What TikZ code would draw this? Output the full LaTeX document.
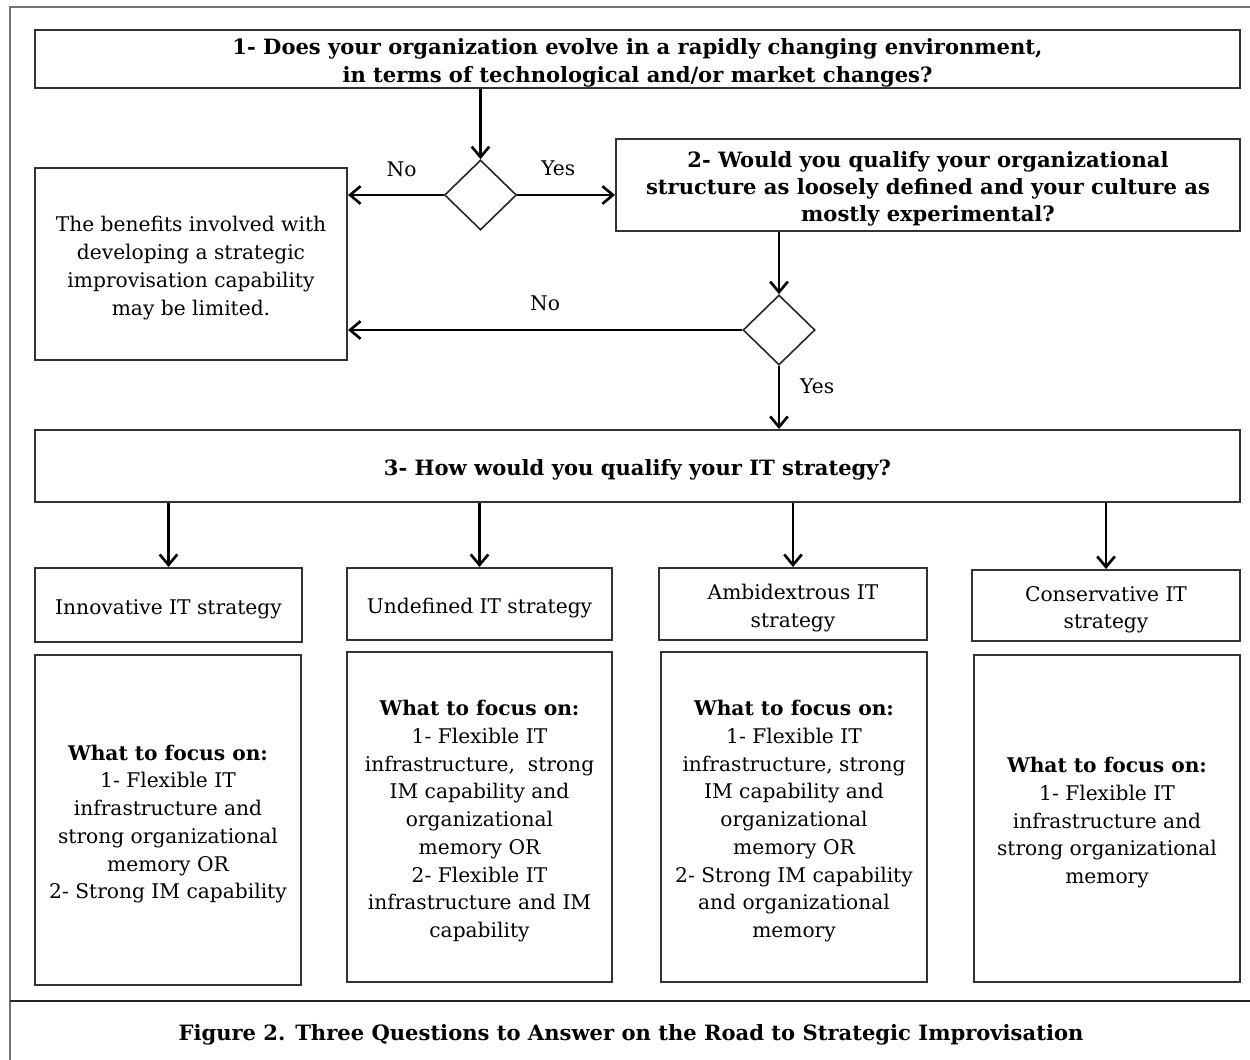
\documentclass[tikz,border=0pt]{standalone}
\usepackage{fontspec}
\setmainfont{DejaVu Serif}
\usetikzlibrary{shapes.geometric,arrows.meta,shadows}
\newcommand\Tst{\rule{0pt}{13.4pt}}
\begin{document}
\def\u{0.02cm}
\begin{tikzpicture}[x=0.02cm,y=-0.02cm,
  box/.style={draw=black!80, line width=1.1pt, fill=white, inner sep=0pt, align=center,
    drop shadow={shadow xshift=0.6pt, shadow yshift=-0.8pt, fill=black!45, opacity=0.6}},
  qtext/.style={font=\fontsize{12}{15.6}\selectfont\bfseries},
  ntext/.style={font=\fontsize{11.5}{15.8}\selectfont},
  dia/.style={draw=black!85, line width=0.9pt, fill=white, shape=diamond, inner sep=0pt, aspect=1,
    minimum width=72*\u, minimum height=70*\u},
  arr/.style={line width=1.5pt, -{Straight Barb[length=6pt,width=10pt,line width=1.5pt]}},
  lbl/.style={font=\fontsize{11.5}{12}\selectfont}
]
\useasboundingbox (0,0) rectangle (1250,1060);
\fill[white] (0,0) rectangle (1250,1060);
% frame
\coordinate (ftl) at (10,7);
\coordinate (ftr) at (1250,7);
\coordinate (fbl) at (10,1060);
\coordinate (sl) at (10,1001);
\coordinate (sr) at (1250,1001);
\draw[black!55, line width=0.9pt] (fbl) -- (ftl) -- (ftr);
\draw[black!85, line width=1.6pt] (sl) -- (sr);

% question 1
\node[box, qtext, minimum width=1205*\u, minimum height=58*\u] (q1) at (637.5,59)
  {\Tst 1- Does your organization evolve in a rapidly changing environment,\\ in terms of technological and/or market changes?};
\node[dia] (d1) at (480.5,195) {};
\node[box, ntext, minimum width=312*\u, minimum height=192*\u] (lim) at (191,264)
  {\Tst The benefits involved with\\ developing a strategic\\ improvisation capability\\ may be limited.};
\node[box, qtext, minimum width=624*\u, minimum height=92*\u] (q2) at (928,185)
  {\Tst 2- Would you qualify your organizational\\ structure as loosely defined and your culture as\\ mostly experimental?};
\node[dia] (d2) at (779,330) {};
\node[box, qtext, minimum width=1205*\u, minimum height=72*\u] (q3) at (637.5,466)
  {\Tst 3- How would you qualify your IT strategy?};

% strategies
\node[box, ntext, minimum width=267*\u, minimum height=74*\u] (s1) at (168.5,605) {\Tst Innovative IT strategy};
\node[box, ntext, minimum width=265*\u, minimum height=72*\u] (s2) at (479.5,604) {\Tst Undefined IT strategy};
\node[box, ntext, minimum width=268*\u, minimum height=72*\u] (s3) at (793,604) {\Tst Ambidextrous IT\\ strategy};
\node[box, ntext, minimum width=268*\u, minimum height=71*\u] (s4) at (1106,605.5) {\Tst Conservative IT\\ strategy};

% focus boxes
\node[box, ntext, minimum width=266*\u, minimum height=330*\u] (f1) at (168,820)
  {\Tst{\bfseries What to focus on:}\\ 1- Flexible IT\\ infrastructure and\\ strong organizational\\ memory OR\\ 2- Strong IM capability};
\node[box, ntext, minimum width=265*\u, minimum height=330*\u] (f2) at (479.5,817)
  {\Tst{\bfseries What to focus on:}\\ 1- Flexible IT\\ infrastructure,\ \ strong\\ IM capability and\\ organizational\\ memory OR\\ 2- Flexible IT\\ infrastructure and IM\\ capability};
\node[box, ntext, minimum width=266*\u, minimum height=330*\u] (f3) at (794,817)
  {\Tst{\bfseries What to focus on:}\\ 1- Flexible IT\\ infrastructure, strong\\ IM capability and\\ organizational\\ memory OR\\ 2- Strong IM capability\\ and organizational\\ memory};
\node[box, ntext, minimum width=266*\u, minimum height=327*\u] (f4) at (1107,818.5)
  {\Tst{\bfseries What to focus on:}\\ 1- Flexible IT\\ infrastructure and\\ strong organizational\\ memory};

% connectors
\draw[arr] (q1.south -| d1.north) -- (d1.north);
\draw[arr] (d1.west) -- (d1.west -| lim.east) node[lbl, pos=0.44, above=6pt] {No};
\draw[arr] (d1.east) -- (d1.east -| q2.west) node[lbl, pos=0.42, above=7pt] {Yes};
\draw[arr] (q2.south -| d2.north) -- (d2.north);
\draw[arr] (d2.west) -- (d2.west -| lim.east) node[lbl, pos=0.5, above=7pt] {No};
\draw[arr] (d2.south) -- (d2.south |- q3.north) node[lbl, pos=0.33, right=8pt] {Yes};
\draw[arr] (q3.south -| s1.north) -- (s1.north);
\draw[arr] (q3.south -| s2.north) -- (s2.north);
\draw[arr] (q3.south -| s3.north) -- (s3.north);
\draw[arr] (q3.south -| s4.north) -- (s4.north);

% caption
\node[qtext] (cap) at (631,1035) {Figure 2. Three Questions to Answer on the Road to Strategic Improvisation};
\end{tikzpicture}
\end{document}
